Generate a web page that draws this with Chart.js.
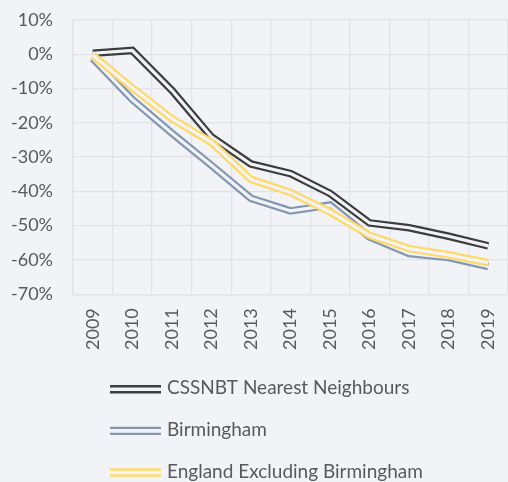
<!DOCTYPE html>
<html>
<head>
<meta charset="utf-8">
<script src="https://cdn.jsdelivr.net/npm/chart.js@4"></script>
<style>
  html, body { margin: 0; padding: 0; background: #f2f3f7; overflow: hidden; }
  canvas { display: block; }
</style>
</head>
<body>
<canvas id="myChart" width="508" height="482"></canvas>
<script>
const years = ["2009", "2010", "2011", "2012", "2013", "2014", "2015", "2016", "2017", "2018", "2019"];
const nearestNeighbours = [0.3, 1.1, -10.5, -24.1, -32.0, -34.8, -40.6, -49.2, -50.6, -53.1, -55.9];
const birmingham = [-1.2, -13.2, -23.0, -32.4, -42.0, -45.7, -44.0, -53.3, -58.1, -59.3, -61.9];
const englandExBirmingham = [-0.3, -9.8, -18.8, -25.7, -36.5, -40.3, -46.0, -52.8, -56.7, -58.5, -60.8];
const yTicks = [10, 0, -10, -20, -30, -40, -50, -60, -70];

const BG = "#f2f3f7";
const GRID = "#e2e3e7";
const TEXT = "#595959";

// each series is drawn twice: a wide coloured stroke with a thin background stroke on top -> double line
function doubleLine(label, data, color, order) {
  return [
    { label: label, data: data, borderColor: color, borderWidth: 7.6, pointRadius: 0, order: order + 1, outer: true },
    { label: "", data: data, borderColor: BG, borderWidth: 3.2, pointRadius: 0, order: order },
  ];
}

// legend drawn as a column of double-line samples
const doubleLegend = {
  id: "doubleLegend",
  afterDraw(chart) {
    const ctx = chart.ctx;
    const top = chart.chartArea.bottom + 95;
    ctx.save();
    ctx.font = "19px Lato";
    ctx.fillStyle = TEXT;
    ctx.textBaseline = "middle";
    let row = 0;
    chart.data.datasets.forEach((ds) => {
      if (!ds.outer) return;
      const y = top + row * 41.6;
      ctx.strokeStyle = ds.borderColor;
      ctx.lineWidth = 2.4;
      ctx.beginPath();
      ctx.moveTo(110, y - 3);
      ctx.lineTo(161, y - 3);
      ctx.moveTo(110, y + 3);
      ctx.lineTo(161, y + 3);
      ctx.stroke();
      ctx.fillText(ds.label, 167, y - 1);
      row++;
    });
    ctx.restore();
  },
};

var ctx = document.getElementById("myChart").getContext("2d");
var myChart = new Chart(ctx, {
  type: "line",
  data: {
    labels: years,
    datasets: [
      ...doubleLine("CSSNBT Nearest Neighbours", nearestNeighbours, "#3d3d3d", 5),
      ...doubleLine("Birmingham", birmingham, "#8497b0", 3),
      ...doubleLine("England Excluding Birmingham", englandExBirmingham, "#ffd966", 1),
    ],
  },
  options: {
    responsive: false,
    animation: false,
    layout: { padding: { top: 20, right: 0, bottom: 118, left: 0 } },
    plugins: {
      legend: { display: false },
      tooltip: { enabled: false },
    },
    scales: {
      x: {
        offset: true,
        afterFit(scale) {
          scale.paddingLeft = 0;
          scale.paddingRight = 0;
        },
        grid: { offset: true, color: GRID, lineWidth: 1.3, drawTicks: false },
        border: { color: GRID, width: 1.3 },
        ticks: { color: TEXT, font: { family: "Lato", size: 18 }, minRotation: 90, maxRotation: 90, padding: 14 },
      },
      y: {
        min: -70,
        max: 10,
        afterFit(scale) {
          scale.width = 73;
          scale.paddingTop = 0;
          scale.paddingBottom = 0;
        },
        afterBuildTicks(scale) {
          scale.ticks = yTicks.map((v) => ({ value: v }));
        },
        grid: { color: GRID, lineWidth: 1.3, drawTicks: false },
        border: { color: GRID, width: 1.3 },
        ticks: { color: TEXT, font: { family: "Lato", size: 18 }, padding: 20, callback: (v) => v + "%" },
      },
    },
  },
  plugins: [doubleLegend],
});
</script>
</body>
</html>
